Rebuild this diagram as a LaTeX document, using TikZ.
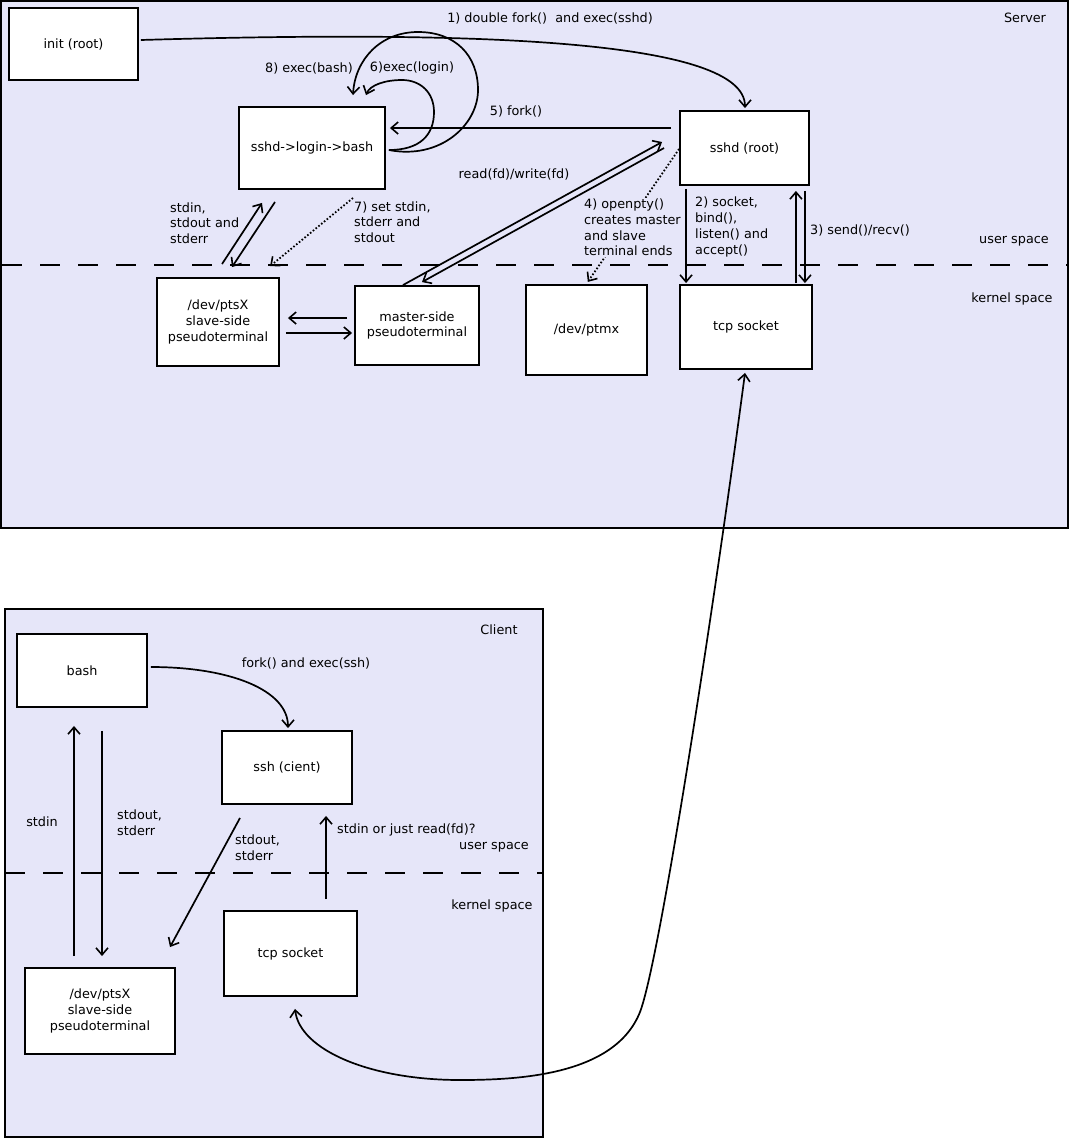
\documentclass[tikz,border=0pt]{standalone}
\usepackage{fontspec}
\setmainfont{DejaVu Sans}
\usetikzlibrary{arrows.meta,calc}
\definecolor{lav}{RGB}{230,230,249}
\newcommand{\fs}{\fontsize{12.8}{15.7}\selectfont}
\begin{document}
\begin{tikzpicture}[x=1pt,y=-1pt,
  box/.style={draw, fill=white, line width=1.9pt, rectangle, inner sep=0pt, align=center, font=\fs},
  lbl/.style={inner sep=0pt, font=\fs, align=left},
  arr/.style={line width=1.7pt, -{Straight Barb[length=7pt,width=12pt,line width=1.6pt]}},
  darr/.style={line width=1.7pt, {Straight Barb[length=7pt,width=12pt,line width=1.6pt]}-{Straight Barb[length=7pt,width=12pt,line width=1.6pt]}},
  dotarr/.style={line width=1.8pt, dash pattern=on 1.6pt off 2pt, -{Straight Barb[length=7pt,width=12pt,line width=1.6pt,sep]}},
  spaceline/.style={line width=1.9pt, dash pattern=on 20pt off 18pt},
  frame/.style={draw, fill=lav, line width=1.9pt}]
\useasboundingbox (0,0) rectangle (1070,1138);
% frames
\path[frame] (1,1) rectangle (1068,528);
\path[frame] (5,609) rectangle (543,1137);
\draw[spaceline] (2,265) -- (1068,265);
\draw[spaceline] (5,873) -- (543,873);
% server nodes
\node[box, minimum width=129pt, minimum height=72pt] (init) at (73.5,44) {init (root)};
\node[box, minimum width=146pt, minimum height=82pt] (bsh) at (312,148) {sshd->login->bash};
\node[box, minimum width=129pt, minimum height=74pt] (sshd) at (744.5,148) {sshd (root)};
\node[box, minimum width=122pt, minimum height=88pt] (pts) at (218,322) {/dev/ptsX\\slave-side\\pseudoterminal};
\node[box, minimum width=124pt, minimum height=79pt] (mst) at (417,325.5) {master-side\\pseudoterminal};
\node[box, minimum width=121pt, minimum height=90pt] (ptmx) at (586.5,330) {/dev/ptmx};
\node[box, minimum width=132pt, minimum height=84pt] (tcps) at (746,327) {tcp socket};
% client nodes
\node[box, minimum width=130pt, minimum height=73pt] (cbash) at (82,670.5) {bash};
\node[box, minimum width=130pt, minimum height=73pt] (ssh) at (287,767.5) {ssh (cient)};
\node[box, minimum width=150pt, minimum height=86pt] (cpts) at (100,1011) {/dev/ptsX\\slave-side\\pseudoterminal};
\node[box, minimum width=133pt, minimum height=85pt] (ctcp) at (290.5,953.5) {tcp socket};
% server labels
\node[lbl] (l1) at (550,18) {1) double fork()~ and exec(sshd)};
\node[lbl] (lserver) at (1025,18) {Server};
\node[lbl] (lus) at (1014,241) {user space};
\node[lbl] (lks) at (1012,299) {kernel space};
\node[lbl] (l8) at (309,68) {8) exec(bash)};
\node[lbl] (l6) at (412,68) {6)exec(login)};
\node[lbl] (l5) at (516,111) {5) fork()};
\node[lbl] (lrw) at (514,174) {read(fd)/write(fd)};
\node[lbl, anchor=west] (lstd) at (170,223) {stdin,\\stdout and\\stderr};
\node[lbl, anchor=west] (l7) at (354,222) {7) set stdin,\\stderr and\\stdout};
\node[lbl, anchor=west] (l2) at (695,227) {2) socket,\\bind(),\\listen() and\\accept()};
\node[lbl, anchor=west] (l3) at (810,230) {3) send()/recv()};
% server connectors
\draw[arr] ($(init.east)+(2,-4)$) .. controls (480,30) and (745,40) .. ($(sshd.north)+(0.5,-2)$);
\draw[arr] ($(sshd.west)+(-8,-20)$) -- ($(bsh.east)+(4,-20)$);
\draw[arr] ($(bsh.east)+(3,2)$) .. controls (440,160) and (478,125) .. (478,90)
   .. controls (478,55) and (455,32) .. (418,32) .. controls (380,32) and (355,60) .. ($(bsh.north)+(41,-11)$);
\draw[arr] ($(bsh.east)+(3,2)$) .. controls (420,150) and (434,135) .. (434,112)
   .. controls (434,92) and (420,80) .. (402,80) .. controls (385,80) and (370,85) .. ($(bsh.north)+(54,-11)$);
\draw[arr] ($(pts.north)+(4,-13)$) -- ($(bsh.south)+(-50,13)$);
\draw[arr] ($(bsh.south)+(-37,12)$) -- ($(pts.north)+(14,-10)$);
\draw[dotarr] ($(bsh.south)+(41,8)$) -- ($(pts.north)+(51,-10)$);
\draw[arr] ($(mst.west)+(-7,-7.5)$) -- ($(pts.east)+(8,-4)$);
\draw[arr] ($(pts.east)+(6,11)$) -- ($(mst.west)+(-2,7.5)$);
\draw[arr] ($(mst.north)+(-14,0)$) -- ($(sshd.west)+(-17,-6)$);
\draw[arr] ($(sshd.west)+(-15,0)$) -- ($(mst.north)+(5,-3)$);
\draw[dotarr] ($(sshd.west)+(0,1)$) -- ($(ptmx.north)+(0.5,-1)$);
\node[lbl, anchor=west, fill=lav, inner sep=1pt] (l4) at (583,227.5) {4) openpty()\\creates master\\and slave\\terminal ends};
\draw[arr] ($(sshd.south west)+(7,3)$) -- ($(tcps.north west)+(7,-1)$);
\draw[arr] ($(tcps.north east)+(-17,-1)$) -- ($(sshd.south east)+(-14,5)$);
\draw[arr] ($(sshd.south east)+(-5,5)$) -- ($(tcps.north east)+(-8,-1)$);
% long connection
\draw[darr] ($(tcps.south)+(-1,3)$) .. controls (715,600) and (660,960) .. (640,1012)
   .. controls (615,1075) and (520,1080) .. (460,1080)
   .. controls (370,1080) and (300,1050) .. ($(ctcp.south)+(4.5,12)$);
% client labels
\node[lbl] (lclient) at (499,630) {Client};
\node[lbl] (lfork) at (306,663) {fork() and exec(ssh)};
\node[lbl] (lstdin) at (42,822) {stdin};
\node[lbl, anchor=west] (lso1) at (117,823) {stdout,\\stderr};
\node[lbl, anchor=west] (lso2) at (235,848) {stdout,\\stderr};
\node[lbl, anchor=west] (lread) at (337,830) {stdin or just read(fd)?};
\node[lbl] (lcus) at (494,847) {user space};
\node[lbl] (lcks) at (492,906) {kernel space};
% client connectors
\draw[arr] ($(cbash.east)+(3,-3.5)$) .. controls (230,667) and (288,690) .. ($(ssh.north)+(1,-2)$);
\draw[arr] ($(cpts.north)+(-26,-11)$) -- ($(cbash.south)+(-8,18)$);
\draw[arr] ($(cbash.south)+(20,23)$) -- ($(cpts.north)+(2,-11)$);
\draw[arr] ($(ssh.south)+(-47,13)$) -- ($(cpts.north)+(70,-20)$);
\draw[arr] ($(ctcp.north)+(35.5,-11)$) -- ($(ssh.south)+(39,11)$);
\end{tikzpicture}
\end{document}
